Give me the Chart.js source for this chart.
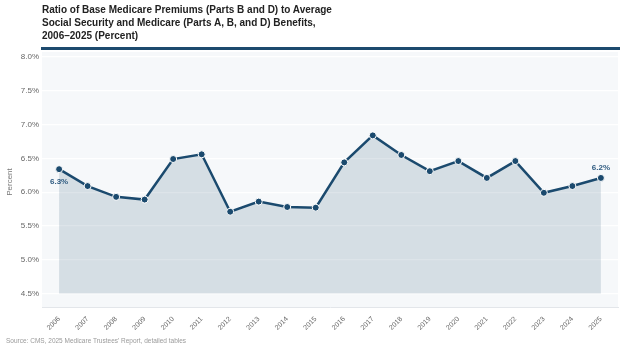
<!DOCTYPE html>
<html>
<head>
<meta charset="utf-8">
<script src="https://cdn.jsdelivr.net/npm/chart.js@4.4.1/dist/chart.umd.min.js"></script>
<style>
  html, body { margin: 0; padding: 0; background: #ffffff; }
  #wrap { position: relative; width: 624px; height: 351px; overflow: hidden; font-family: "Liberation Sans", Arial, sans-serif; }
  #title { position: absolute; left: 42px; top: 3px; font-size: 10px; font-weight: bold; line-height: 13px; color: #222222; }
  #rule { position: absolute; left: 41px; top: 47px; width: 579px; height: 3px; background: #1d4a6e; }
  #source { position: absolute; left: 6px; top: 337px; font-size: 6.5px; color: #9a9a9a; }
  canvas { position: absolute; left: 0; top: 0; }
</style>
</head>
<body>
<div id="wrap">
  <canvas id="chart" width="624" height="351"></canvas>
  <div id="title">Ratio of Base Medicare Premiums (Parts B and D) to Average<br>Social Security and Medicare (Parts A, B, and D) Benefits,<br>2006–2025 (Percent)</div>
  <div id="rule"></div>
  <div id="source">Source: CMS, 2025 Medicare Trustees' Report, detailed tables</div>
</div>
<script>
// Daten
const years = [2006, 2007, 2008, 2009, 2010, 2011, 2012, 2013, 2014, 2015,
               2016, 2017, 2018, 2019, 2020, 2021, 2022, 2023, 2024, 2025];
const ratio = [6.34, 6.09, 5.93, 5.89, 6.49, 6.56, 5.71, 5.86, 5.78, 5.77,
               6.44, 6.84, 6.55, 6.31, 6.46, 6.21, 6.46, 5.99, 6.09, 6.21];
const yTicks = [4.5, 5.0, 5.5, 6.0, 6.5, 7.0, 7.5, 8.0];

const lineColor = "#1b4a6e";

// Hintergrund der Plotfläche
const plotBg = {
  id: "plotBg",
  beforeDraw(chart) {
    const a = chart.chartArea;
    const ctx = chart.ctx;
    ctx.save();
    ctx.fillStyle = "#f6f8fa";
    ctx.fillRect(a.left, a.top - 5, a.right - a.left, a.bottom - a.top + 5);
    ctx.restore();
  },
};

// Beschriftung erster und letzter Punkt
const endLabels = {
  id: "endLabels",
  afterDatasetsDraw(chart) {
    const pts = chart.getDatasetMeta(0).data;
    const ctx = chart.ctx;
    ctx.save();
    ctx.font = "bold 8px 'Liberation Sans', Arial, sans-serif";
    ctx.fillStyle = "#2f5b80";
    ctx.textAlign = "center";
    ctx.textBaseline = "middle";
    const first = pts[0];
    const last = pts[pts.length - 1];
    ctx.fillText(ratio[0].toFixed(1) + "%", first.x, first.y + 13);
    ctx.fillText(ratio[ratio.length - 1].toFixed(1) + "%", last.x, last.y - 10);
    ctx.restore();
  },
};

new Chart(document.getElementById("chart"), {
  type: "line",
  data: {
    datasets: [
      {
        data: years.map((y, i) => ({ x: y, y: ratio[i] })),
        borderColor: lineColor,
        borderWidth: 2.5,
        backgroundColor: "rgba(27,74,110,0.15)",
        fill: { value: 4.5 },
        tension: 0,
        pointRadius: 3.5,
        pointBackgroundColor: lineColor,
        pointBorderColor: "#ffffff",
        pointBorderWidth: 1,
      },
    ],
  },
  options: {
    responsive: false,
    animation: false,
    layout: { padding: { top: 57, right: 6, left: 5, bottom: 0 } },
    plugins: { legend: { display: false }, tooltip: { enabled: false } },
    scales: {
      x: {
        type: "linear",
        min: 2005.4,
        max: 2025.6,
        afterBuildTicks: (s) => { s.ticks = years.map((v) => ({ value: v })); },
        afterFit: (s) => { s.height = 44; },
        grid: { display: false },
        border: { color: "#e3e6ea" },
        ticks: {
          callback: (v) => String(v),
          minRotation: 45,
          maxRotation: 45,
          color: "#666666",
          font: { size: 7, family: "'Liberation Sans', Arial, sans-serif" },
          padding: 0,
        },
      },
      y: {
        min: 4.3,
        max: 8.0,
        afterBuildTicks: (s) => { s.ticks = yTicks.map((v) => ({ value: v })); },
        afterFit: (s) => { s.width = 37; },
        grid: { color: "#ffffff", lineWidth: 1.2, drawTicks: false },
        border: { display: false },
        ticks: {
          callback: (v) => v.toFixed(1) + "%",
          color: "#666666",
          font: { size: 8, family: "'Liberation Sans', Arial, sans-serif" },
          padding: 3,
        },
        title: {
          display: true,
          text: "Percent",
          color: "#777777",
          font: { size: 8, family: "'Liberation Sans', Arial, sans-serif" },
          padding: 0,
        },
      },
    },
  },
  plugins: [plotBg, endLabels],
});
</script>
</body>
</html>
